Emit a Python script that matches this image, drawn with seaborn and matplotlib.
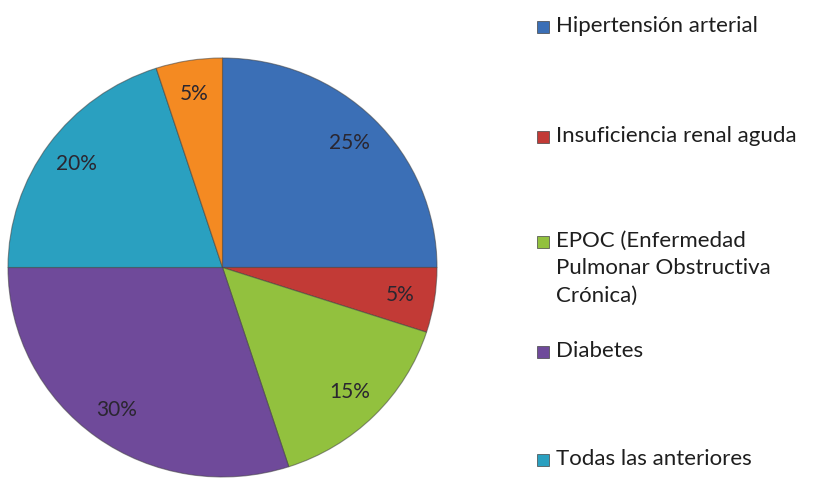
import matplotlib
matplotlib.use("Agg")
import matplotlib.pyplot as plt
import matplotlib.patches as mpatches
import seaborn as sns

# ── Data ─────────────────────────────────────────────────────────────────────
categories = [
    "Hipertensión arterial",
    "Insuficiencia renal aguda",
    "EPOC (Enfermedad\nPulmonar Obstructiva\nCrónica)",
    "Diabetes",
    "Todas las anteriores",
    "",
]
values = [25, 5, 15, 30, 20, 5]
legend_count = 5  # the last (orange) slice has no legend entry

# ── Style ────────────────────────────────────────────────────────────────────
sns.set_theme(style="white")
plt.rcParams["font.family"] = ["Lato", "DejaVu Sans"]
palette = sns.color_palette(["#3b6fb6", "#c23a36", "#92c13e",
                             "#6f4a9a", "#2aa0c0", "#f48a22"])

W, H = 814, 483
fig = plt.figure(figsize=(W / 100, H / 100), dpi=100)
fig.patch.set_facecolor("white")
ax = fig.add_axes([8 / W, 6 / H, 429 / W, 419 / H])

wedges, texts, autotexts = ax.pie(
    values, colors=palette, startangle=90, counterclock=False,
    autopct="%1.0f%%", pctdistance=0.84, radius=1.0,
    wedgeprops=dict(edgecolor=(0.25, 0.25, 0.25, 0.55), linewidth=0.8),
    textprops=dict(fontsize=15, color="#2a2630"),
)
ax.set_aspect("auto")
ax.set_xlim(-1, 1)
ax.set_ylim(-1, 1)

# ── Legend (5 entries, Excel-like: marker on first line) ─────────────────────
legend_y = [27, 137, 242, 352, 460]  # pixel centre of first text line
for i in range(legend_count):
    y = legend_y[i]
    fig.patches.append(mpatches.Rectangle(
        (537 / W, 1 - (y + 6) / H), 12 / W, 12 / H,
        transform=fig.transFigure, facecolor=palette[i],
        edgecolor="#444444", linewidth=0.5))
    fig.text(556 / W, 1 - (y - 11) / H, categories[i], fontsize=16,
             color="#1e1e1e", va="top", ha="left", linespacing=1.45)

plt.savefig("out.png", dpi=100, facecolor=fig.get_facecolor())
plt.close()
